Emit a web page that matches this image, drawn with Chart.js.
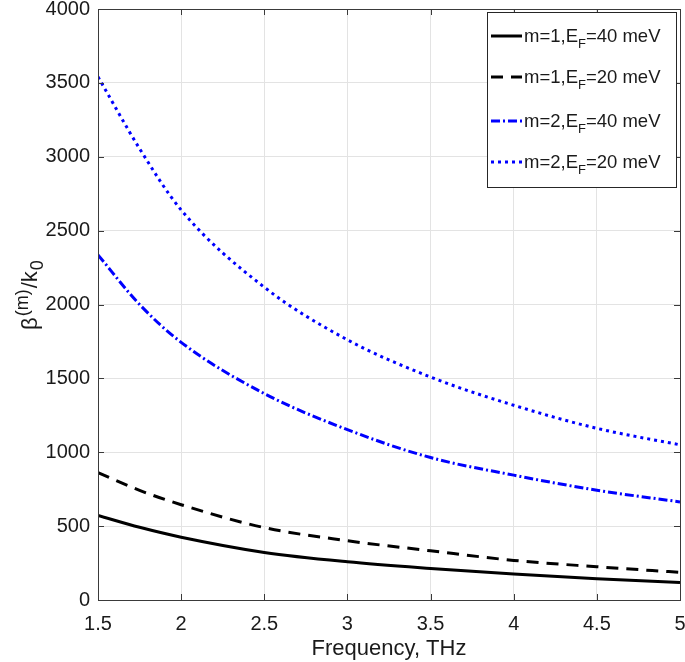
<!DOCTYPE html>
<html>
<head>
<meta charset="utf-8">
<script src="https://cdn.jsdelivr.net/npm/chart.js@4/dist/chart.umd.min.js"></script>
<style>
html,body{margin:0;padding:0;background:#fff;}
#wrap{position:relative;width:685px;height:662px;}
</style>
</head>
<body>
<div id="wrap"><canvas id="c" width="685" height="662"></canvas></div>
<script>
// Frequency (THz)
const freq = [1.5, 1.75, 2, 2.5, 3, 3.5, 4, 4.5, 5];
// beta^(m)/k0 values
const m1_EF40 = [572, 492, 425, 322, 259, 214, 176, 144, 119];
const m1_EF20 = [862, 742, 645, 490, 401, 333, 268, 225, 187];
const m2_EF40 = [2336, 2000, 1744, 1397, 1153, 964, 845, 743, 664];
const m2_EF20 = [3541, 3055, 2640, 2117, 1761, 1509, 1318, 1162, 1050];
const xTicks = [1.5, 2, 2.5, 3, 3.5, 4, 4.5, 5];
const yTicks = [0, 500, 1000, 1500, 2000, 2500, 3000, 3500, 4000];
const legendLabels = [
  {pre: 'm=1,E', sub: 'F', post: '=40 meV'},
  {pre: 'm=1,E', sub: 'F', post: '=20 meV'},
  {pre: 'm=2,E', sub: 'F', post: '=40 meV'},
  {pre: 'm=2,E', sub: 'F', post: '=20 meV'}
];

const toXY = arr => arr.map((v, i) => ({x: freq[i], y: v}));
const FONT = '"Liberation Sans", Arial, Helvetica, sans-serif';
const TXT = '#1a1a1a';

const datasets = [
  {data: toXY(m1_EF40), borderColor: '#000000', borderWidth: 3, borderDash: []},
  {data: toXY(m1_EF20), borderColor: '#000000', borderWidth: 3, borderDash: [12, 8]},
  {data: toXY(m2_EF40), borderColor: '#0000ff', borderWidth: 3, borderDash: [9, 3, 2, 3]},
  {data: toXY(m2_EF20), borderColor: '#0000ff', borderWidth: 3, borderDash: [3, 4]}
].map(d => Object.assign(d, {pointRadius: 0, fill: false, cubicInterpolationMode: 'monotone', borderCapStyle: 'butt'}));

const boxPlugin = {
  id: 'boxPlugin',
  afterDraw(chart) {
    const ctx = chart.ctx;
    const a = chart.chartArea;
    const xs = chart.scales.x, ys = chart.scales.y;
    ctx.save();
    // axes box
    ctx.strokeStyle = '#3a3a3a';
    ctx.lineWidth = 1;
    ctx.strokeRect(Math.round(a.left) + 0.5, Math.round(a.top) + 0.5, Math.round(a.right - a.left), Math.round(a.bottom - a.top));
    // inward ticks
    const tl = 6;
    ctx.beginPath();
    xTicks.forEach(v => {
      const px = Math.round(xs.getPixelForValue(v)) + 0.5;
      ctx.moveTo(px, a.bottom); ctx.lineTo(px, a.bottom - tl);
      ctx.moveTo(px, a.top); ctx.lineTo(px, a.top + tl);
    });
    yTicks.forEach(v => {
      const py = Math.round(ys.getPixelForValue(v)) + 0.5;
      ctx.moveTo(a.left, py); ctx.lineTo(a.left + tl, py);
      ctx.moveTo(a.right, py); ctx.lineTo(a.right - tl, py);
    });
    ctx.stroke();

    // Legend
    const lx = 487, ly = 12, lw = 189, lh = 175;
    ctx.fillStyle = '#ffffff';
    ctx.fillRect(lx, ly, lw, lh);
    ctx.strokeStyle = '#262626';
    ctx.lineWidth = 1;
    ctx.strokeRect(lx + 0.5, ly + 0.5, lw, lh);
    const rowY = [36, 77, 121, 162];
    legendLabels.forEach((lab, i) => {
      const ds = datasets[i];
      const y = rowY[i];
      ctx.save();
      ctx.strokeStyle = ds.borderColor;
      ctx.lineWidth = 3;
      ctx.setLineDash(ds.borderDash);
      ctx.beginPath();
      ctx.moveTo(lx + 4, y); ctx.lineTo(lx + 35, y);
      ctx.stroke();
      ctx.restore();
      ctx.fillStyle = TXT;
      ctx.textBaseline = 'alphabetic';
      ctx.textAlign = 'left';
      let x = lx + 37;
      const base = y + 6;
      ctx.font = '18.5px ' + FONT;
      ctx.fillText(lab.pre, x, base);
      x += ctx.measureText(lab.pre).width;
      ctx.font = '13px ' + FONT;
      ctx.fillText(lab.sub, x, base + 6);
      x += ctx.measureText(lab.sub).width;
      ctx.font = '18.5px ' + FONT;
      ctx.fillText(lab.post, x, base);
    });

    // Y title: beta^(m)/k_0
    const cy = (a.top + a.bottom) / 2 - 10;
    ctx.translate(37, cy);
    ctx.rotate(-Math.PI / 2);
    const parts = [
      {t: 'β', f: 22, dy: 0},
      {t: '(m)', f: 18, dy: -9},
      {t: '/k', f: 22, dy: 0},
      {t: '0', f: 18, dy: 6}
    ];
    let total = 0;
    parts.forEach(p => { ctx.font = p.f + 'px ' + FONT; p.w = ctx.measureText(p.t).width; total += p.w + 1; });
    let x = -total / 2;
    ctx.fillStyle = TXT;
    ctx.textAlign = 'left';
    parts.forEach(p => {
      ctx.font = p.f + 'px ' + FONT;
      ctx.fillText(p.t, x, p.dy);
      x += p.w + 1;
    });
    ctx.restore();
  }
};

new Chart(document.getElementById('c'), {
  type: 'line',
  data: {datasets},
  options: {
    responsive: false,
    animation: false,
    events: [],
    layout: {padding: {left: 0, right: 5, top: 9, bottom: 0}},
    plugins: {legend: {display: false}, tooltip: {enabled: false}},
    scales: {
      x: {
        type: 'linear', min: 1.5, max: 5,
        afterBuildTicks: s => { s.ticks = xTicks.map(v => ({value: v})); },
        afterFit: s => { s.height = 62; s.paddingLeft = 0; s.paddingRight = 0; },
        grid: {color: '#e3e3e3', lineWidth: 1, drawTicks: false},
        border: {display: false},
        ticks: {color: TXT, font: {size: 20, family: FONT}, padding: 12, maxRotation: 0, callback: v => String(v)},
        title: {display: true, text: 'Frequency, THz', color: TXT, font: {size: 22, family: FONT}, padding: {top: 2, bottom: 0}}
      },
      y: {
        type: 'linear', min: 0, max: 4000,
        afterBuildTicks: s => { s.ticks = yTicks.map(v => ({value: v})); },
        afterFit: s => { s.width = 98; s.paddingTop = 0; s.paddingBottom = 0; },
        grid: {color: '#e3e3e3', lineWidth: 1, drawTicks: false},
        border: {display: false},
        ticks: {color: TXT, font: {size: 20, family: FONT}, padding: 8, callback: v => String(v)}
      }
    }
  },
  plugins: [boxPlugin]
});
</script>
</body>
</html>
